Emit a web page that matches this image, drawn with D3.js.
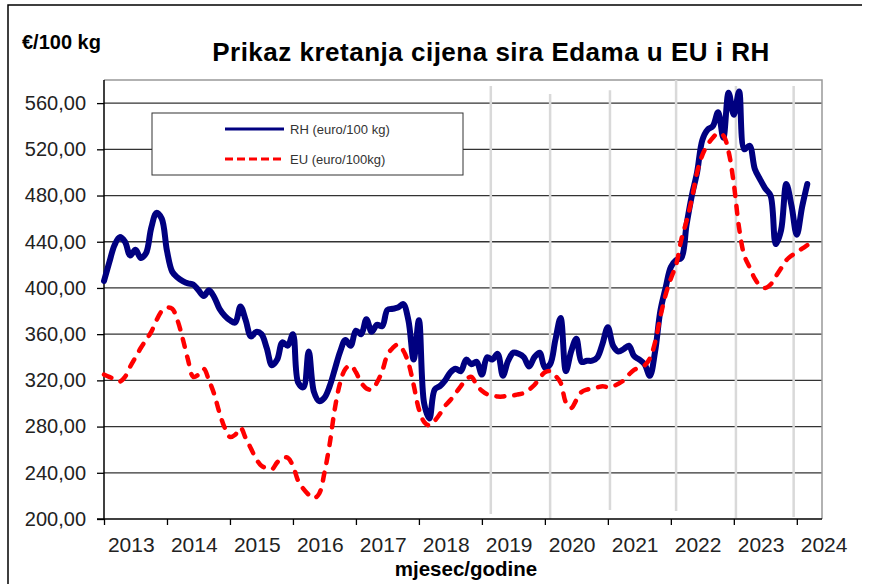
<!DOCTYPE html>
<html>
<head>
<meta charset="utf-8">
<script src="https://cdn.jsdelivr.net/npm/d3@7"></script>
<style>
  body { margin: 0; background: #fff; }
  svg { display: block; font-family: "Liberation Sans", Arial, sans-serif; }
</style>
</head>
<body>
<div id="board"></div>
<script>
// monthly prices, first value = January 2013
const startYear = 2013;
const rh = [406,422,437,444,440,428,433,426,430,452,465,460,
  432,414,409,406,404,403,398,393,398,392,382,376,
  372,370,384,372,358,362,360,348,333,338,353,350,
  360,318,314,345,310,302,305,315,330,345,355,350,
  363,360,373,362,368,367,381,382,383,386,372,338,
  372,300,287,312,315,320,327,330,328,338,334,336,
  325,340,338,343,324,337,344,343,340,332,340,344,
  331,334,355,374,328,345,356,336,337,337,340,352,
  366,350,345,347,350,341,338,334,324,345,380,400,
  418,424,426,455,480,500,528,537,540,552,530,569,
  550,570,520,523,503,494,486,480,438,450,490,471,
  446,470,490];
const eu = [325,323,321,319,323,332,340,348,355,362,372,380,
  383,382,372,356,338,323,325,330,320,308,292,279,
  271,273,279,270,261,252,246,244,243,249,253,253,
  246,233,226,221,218,222,240,265,296,318,330,333,
  327,318,313,312,318,328,342,348,351,346,335,316,
  295,284,281,285,291,298,303,309,315,321,323,316,
  311,308,307,306,306,307,307,308,309,312,316,322,
  327,328,324,318,301,296,303,310,312,313,314,315,
  314,315,317,320,325,329,331,333,339,353,375,394,
  408,420,442,458,477,500,515,524,530,534,532,518,
  490,452,428,418,408,402,400,403,410,417,424,428,
  431,434,437];

const years = d3.range(2013, 2025);
const yTicks = [200, 240, 280, 320, 360, 400, 440, 480, 520, 560];

// light grey year markers (month index, top value, bottom value)
const markerMonths = [73.7, 85, 96.4, 109, 120.4, 131.4];
const markerTops = [574.7, 567.8, 571.2, 580, 574.7, 574.7];
const markerBottoms = [204.3, 200, 207.8, 207, 200.9, 201.7];

const seriesNames = ["RH (euro/100 kg)", "EU (euro/100kg)"];

// Declare the chart dimensions and margins.
const width = 870;
const height = 584;
const marginTop = 80;
const marginRight = 48;
const marginBottom = 65;
const marginLeft = 104;

const x = d3.scaleLinear()
    .domain([0, 136.8])
    .range([marginLeft, width - marginRight]);

const y = d3.scaleLinear()
    .domain([200, 580])
    .range([height - marginBottom, marginTop]);

const fmt = d3.formatLocale({decimal: ",", thousands: ".", grouping: [3], currency: ["", "€"]}).format(".2f");

const svg = d3.create("svg")
    .attr("width", width)
    .attr("height", height);

svg.append("rect").attr("width", width).attr("height", height).attr("fill", "#fff");

// outer frame
svg.append("path")
    .attr("d", "M8,584V5H862")
    .attr("fill", "none")
    .attr("stroke", "#000")
    .attr("stroke-width", 1.5);

// horizontal grid
svg.append("g")
    .selectAll("line")
    .data(yTicks.slice(1))
    .join("line")
    .attr("x1", marginLeft)
    .attr("x2", width - marginRight)
    .attr("y1", d => y(d))
    .attr("y2", d => y(d))
    .attr("stroke", "#333")
    .attr("stroke-width", 1.3);

// plot border top/right
svg.append("path")
    .attr("d", `M${marginLeft},${marginTop}H${width - marginRight}V${height - marginBottom}`)
    .attr("fill", "none")
    .attr("stroke", "#999")
    .attr("stroke-width", 1.5);

// grey year markers
svg.append("g")
    .selectAll("line")
    .data(markerMonths)
    .join("line")
    .attr("x1", d => x(d))
    .attr("x2", d => x(d))
    .attr("y1", (d, i) => y(markerTops[i]))
    .attr("y2", (d, i) => y(markerBottoms[i]))
    .attr("stroke", "#d9d9d9")
    .attr("stroke-width", 2.5);

// Add the y-axis.
const yAxis = svg.append("g")
    .attr("transform", `translate(${marginLeft},0)`)
    .call(d3.axisLeft(y).tickValues(yTicks).tickFormat(fmt).tickSize(7).tickPadding(11));
yAxis.select(".domain").attr("d", `M0,${marginTop}V${height - marginBottom}`).attr("stroke-width", 1.5);
yAxis.selectAll("text").attr("font-size", 20).attr("fill", "#222").attr("font-family", null);
yAxis.selectAll(".tick line").attr("stroke-width", 1.3);

// Add the x-axis.
const xAxis = svg.append("g")
    .attr("transform", `translate(0,${height - marginBottom})`)
    .call(d3.axisBottom(x).tickValues(years.map(d => (d - startYear) * 12)).tickFormat("").tickSize(6));
xAxis.select(".domain").attr("d", `M${marginLeft - 7},0H${width - marginRight}`).attr("stroke-width", 1.5);
xAxis.selectAll(".tick line").attr("stroke-width", 1.3);

svg.append("g")
    .selectAll("text")
    .data(years)
    .join("text")
    .attr("x", d => x((d - startYear) * 12 + 5.2))
    .attr("y", height - marginBottom + 33)
    .attr("text-anchor", "middle")
    .attr("font-size", 21)
    .attr("fill", "#222")
    .text(d => d);

// lines
const line = d3.line()
    .x((d, i) => x(i))
    .y(d => y(d))
    .curve(d3.curveCatmullRom.alpha(0.5));

svg.append("path")
    .datum(rh)
    .attr("d", line)
    .attr("fill", "none")
    .attr("stroke", "#000080")
    .attr("stroke-width", 6)
    .attr("stroke-linejoin", "round")
    .attr("stroke-linecap", "round");

svg.append("path")
    .datum(eu)
    .attr("d", line)
    .attr("fill", "none")
    .attr("stroke", "#ff0000")
    .attr("stroke-width", 4.5)
    .attr("stroke-dasharray", "8,10")
    .attr("stroke-linejoin", "round")
    .attr("stroke-linecap", "round");

// legend
const legend = svg.append("g");
legend.append("rect")
    .attr("x", 152).attr("y", 113)
    .attr("width", 311).attr("height", 62)
    .attr("fill", "#fff")
    .attr("stroke", "#333")
    .attr("stroke-width", 1);

const legendItems = legend.selectAll("g")
    .data(seriesNames)
    .join("g")
    .attr("transform", (d, i) => `translate(225,${129 + i * 30})`);

legendItems.append("line")
    .attr("x1", 0).attr("x2", 59)
    .attr("stroke", (d, i) => i == 0 ? "#000080" : "#ff0000")
    .attr("stroke-width", 3)
    .attr("stroke-dasharray", (d, i) => i == 0 ? null : "8,4");

legendItems.append("text")
    .attr("x", 65)
    .attr("dy", "0.35em")
    .attr("font-size", 13)
    .attr("fill", "#333")
    .text(d => d);

// titles
svg.append("text")
    .attr("x", 491)
    .attr("y", 61)
    .attr("text-anchor", "middle")
    .attr("font-size", 26)
    .attr("letter-spacing", 0.5)
    .attr("font-weight", "bold")
    .attr("fill", "#000")
    .text("Prikaz kretanja cijena sira Edama u EU i RH");

svg.append("text")
    .attr("x", 22)
    .attr("y", 49)
    .attr("font-size", 20)
    .attr("font-weight", "bold")
    .attr("fill", "#000")
    .text("€/100 kg");

svg.append("text")
    .attr("x", 466)
    .attr("y", 576)
    .attr("text-anchor", "middle")
    .attr("font-size", 20.5)
    .attr("font-weight", "bold")
    .attr("fill", "#000")
    .text("mjesec/godine");

// Append the SVG element.
document.getElementById("board").append(svg.node());
</script>
</body>
</html>
